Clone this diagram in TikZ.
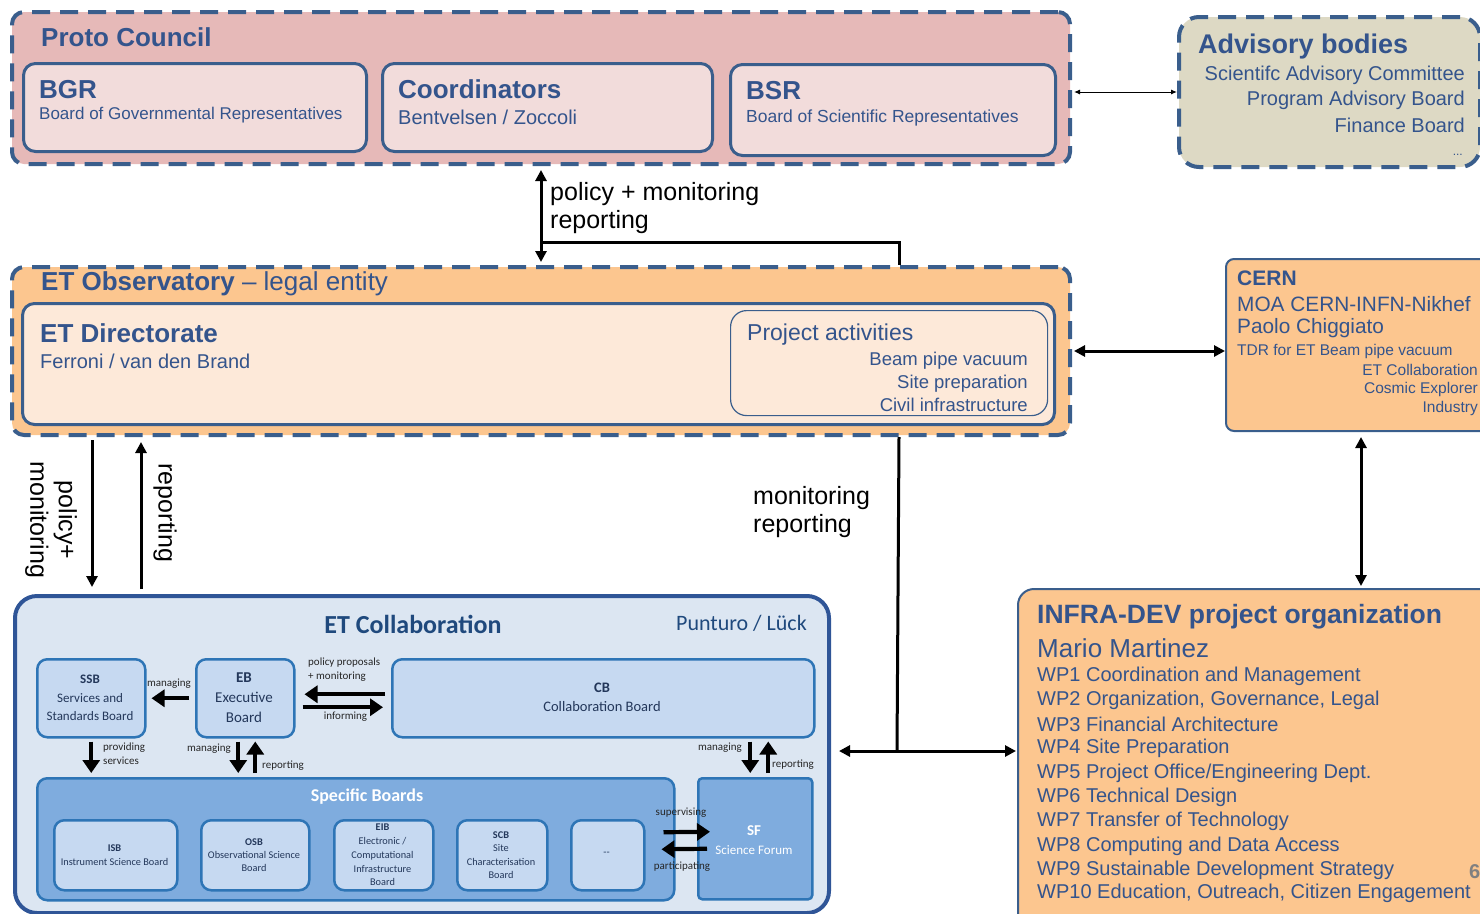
\documentclass[tikz,border=0pt]{standalone}
\usepackage{fontspec}
\setmainfont{Liberation Sans}
\newfontfamily\calib{Carlito}
\usepackage{tikz}
\usetikzlibrary{arrows.meta}

\definecolor{dashblue}{RGB}{58,94,140}
\definecolor{navy}{RGB}{52,84,140}
\definecolor{pcfill}{RGB}{230,185,184}
\definecolor{pclight}{RGB}{242,220,219}
\definecolor{advfill}{RGB}{221,217,196}
\definecolor{obsfill}{RGB}{252,198,143}
\definecolor{peach}{RGB}{253,233,217}
\definecolor{colfill}{RGB}{220,230,242}
\definecolor{colline}{RGB}{47,85,151}
\definecolor{boardfill}{RGB}{198,217,241}
\definecolor{boardline}{RGB}{46,117,182}
\definecolor{specfill}{RGB}{127,172,222}
\definecolor{coltext}{RGB}{35,55,90}
\definecolor{coltitle}{RGB}{31,73,125}

\newcommand{\fsz}[2]{\fontsize{#1}{#2}\selectfont}

\begin{document}
\begin{tikzpicture}[x=1pt, y=-1pt,
	dashbox/.style={draw=dashblue, line width=4pt, dash pattern=on 18pt off 10pt, rounded corners=12pt, anchor=north west, inner sep=0pt},
	innerbox/.style={draw=dashblue, line width=3pt, rounded corners=12pt, anchor=north west, inner sep=0pt},
	sidebox/.style={draw=dashblue, line width=2pt, fill=obsfill, rounded corners=8pt, anchor=north west, inner sep=0pt},
	colbox/.style={draw=boardline, line width=2.5pt, fill=boardfill, rounded corners=10pt, anchor=north west, inner sep=0pt},
	txt/.style={anchor=west, inner sep=0pt, text=navy},
	rtxt/.style={anchor=east, inner sep=0pt, text=navy},
	ctxt/.style={inner sep=0pt, align=center, text=coltext},
	tiny/.style={inner sep=0pt, text=black!85, font=\calib\fsz{11}{14}},
	conlbl/.style={inner sep=0pt, font=\fsz{25}{28.5}},
	bigline/.style={line width=3pt},
	bigarr/.style={line width=3pt, -{Triangle[length=11pt,width=11pt]}},
	bothbig/.style={line width=3pt, {Triangle[length=11pt,width=11pt]}-{Triangle[length=11pt,width=11pt]}},
	colarr/.style={line width=4.2pt, -{Triangle[length=13pt,width=17pt]}},
]

\useasboundingbox (0,0) rectangle (1480,913);

% Proto Council
\node[dashbox, fill=pcfill, minimum width=1058pt, minimum height=152pt] (pc) at (10,10) {};
\node[txt, font=\bfseries\fsz{26}{30}] (pcT) at (41,37) {Proto Council};
\node[innerbox, fill=pclight, minimum width=343pt, minimum height=88pt] (bgr) at (22,62) {};
\node[txt, font=\bfseries\fsz{26}{30}] (bgrT) at (39,90) {BGR};
\node[txt, font=\fsz{17}{20}] (bgrS) at (39,115) {Board of Governmental Representatives};
\node[innerbox, fill=pclight, minimum width=330pt, minimum height=88pt] (coord) at (381,62) {};
\node[txt, font=\bfseries\fsz{26}{30}] (coordT) at (398,89) {Coordinators};
\node[txt, font=\fsz{20}{24}] (coordS) at (398,117) {Bentvelsen / Zoccoli};
\node[innerbox, fill=pclight, minimum width=325pt, minimum height=91pt] (bsr) at (729,63) {};
\node[txt, font=\bfseries\fsz{26}{30}] (bsrT) at (746,91) {BSR};
\node[txt, font=\fsz{17.5}{20}] (bsrS) at (746,118) {Board of Scientific Representatives};

% Advisory bodies
\node[dashbox, fill=advfill, rounded corners=20pt, minimum width=301pt, minimum height=150pt] (adv) at (1177,15) {};
\node[txt, font=\bfseries\fsz{27}{30}] (advT) at (1198,47) {Advisory bodies};
\node[rtxt, font=\fsz{20}{24}] (adv1) at (1465,75) {Scientifc Advisory Committee};
\node[rtxt, font=\fsz{20}{24}] (adv2) at (1465,100) {Program Advisory Board};
\node[rtxt, font=\fsz{20}{24}] (adv3) at (1465,125) {Finance Board};
\node[rtxt, font=\fsz{12}{14}] (adv4) at (1463,155) {...};

% ET Observatory
\node[dashbox, fill=obsfill, minimum width=1058pt, minimum height=168pt] (obs) at (10,265) {};
\node[txt, font=\fsz{26}{30}] (obsT) at (41,284) {\textbf{ET Observatory} -- legal entity};
\node[innerbox, fill=peach, minimum width=1032pt, minimum height=121pt] (dir) at (21,302) {};
\node[txt, font=\bfseries\fsz{26}{30}] (dirT) at (40,333) {ET Directorate};
\node[txt, font=\fsz{20}{24}] (dirS) at (40,361) {Ferroni / van den Brand};
\node[draw=dashblue, line width=1.2pt, rounded corners=16pt, anchor=north west, inner sep=0pt, minimum width=317pt, minimum height=105pt] (proj) at (730,310) {};
\node[txt, font=\fsz{23}{26}] (projT) at (747,335) {Project activities};
\node[rtxt, font=\fsz{18.5}{22}] (proj1) at (1028,361) {Beam pipe vacuum};
\node[rtxt, font=\fsz{18.5}{22}] (proj2) at (1028,384) {Site preparation};
\node[rtxt, font=\fsz{18.5}{22}] (proj3) at (1028,405) {Civil infrastructure};

% CERN
\node[sidebox, minimum width=270pt, minimum height=172pt] (cern) at (1225,258) {};
\node[txt, font=\bfseries\fsz{21}{24}] (cernT) at (1237,278) {CERN};
\node[txt, font=\fsz{20.8}{24}] (cern1) at (1237,304) {MOA CERN-INFN-Nikhef};
\node[txt, font=\fsz{20.8}{24}] (cern2) at (1237,328) {Paolo Chiggiato};
\node[txt, font=\fsz{15.5}{18}] (cern3) at (1237,351) {TDR for ET Beam pipe vacuum};
\node[rtxt, font=\fsz{15.5}{18}] (cern4) at (1478,370) {ET Collaboration};
\node[rtxt, font=\fsz{15.5}{18}] (cern5) at (1478,389) {Cosmic Explorer};
\node[rtxt, font=\fsz{15.5}{18}] (cern6) at (1478,408) {Industry};

% INFRA-DEV
\node[sidebox, rounded corners=16pt, minimum width=480pt, minimum height=340pt] (infra) at (1017,588) {};
\node[txt, font=\bfseries\fsz{26.5}{30}] (infraT) at (1037,617) {INFRA-DEV project organization};
\node[txt, font=\fsz{26}{30}] (infraM) at (1037,648) {Mario Martinez};
\node[txt, font=\fsz{20}{24}] (wp1) at (1037,676) {WP1 Coordination and Management};
\node[txt, font=\fsz{20}{24}] (wp2) at (1037,700) {WP2 Organization, Governance, Legal};
\node[txt, font=\fsz{20}{24}] (wp3) at (1037,724) {WP3 Financial Architecture};
\node[txt, font=\fsz{20}{24}] (wp4) at (1037,748) {WP4 Site Preparation};
\node[txt, font=\fsz{20}{24}] (wp5) at (1037,773) {WP5 Project Office/Engineering Dept.};
\node[txt, font=\fsz{20}{24}] (wp6) at (1037,797) {WP6 Technical Design};
\node[txt, font=\fsz{20}{24}] (wp7) at (1037,821) {WP7 Transfer of Technology};
\node[txt, font=\fsz{20}{24}] (wp8) at (1037,846) {WP8 Computing and Data Access};
\node[txt, font=\fsz{20}{24}] (wp9) at (1037,870) {WP9 Sustainable Development Strategy};
\node[txt, font=\fsz{20}{24}] (wp10) at (1037,893) {WP10 Education, Outreach, Citizen Engagement};
\node[anchor=west, inner sep=0pt, text=gray, font=\bfseries\fsz{20}{24}] (pageNo) at (1469,872) {6};

% ET Collaboration
\node[draw=colline, line width=4pt, fill=colfill, rounded corners=22pt, anchor=north west, inner sep=0pt, minimum width=814pt, minimum height=317pt] (collab) at (13,594) {};
\node[inner sep=0pt, text=coltitle, font=\calib\bfseries\fsz{26}{30}] (collabT) at (413,624) {ET Collaboration};
\node[anchor=east, inner sep=0pt, text=coltitle, font=\calib\fsz{22}{26}] (collabS) at (807,623) {Punturo / Lück};

\node[colbox, minimum width=108pt, minimum height=78pt] (ssb) at (36,658) {};
\node[ctxt, font=\calib\fsz{13}{18.5}] (ssbT) at (90,698) {\textbf{SSB}\\Services and\\Standards Board};
\node[colbox, minimum width=98pt, minimum height=78pt] (eb) at (195,658) {};
\node[ctxt, font=\calib\fsz{15}{20}] (ebT) at (244,698) {\textbf{EB}\\Executive\\Board};
\node[colbox, minimum width=422pt, minimum height=78pt] (cb) at (391,658) {};
\node[ctxt, font=\calib\fsz{14.5}{19}] (cbT) at (602,697) {\textbf{CB}\\Collaboration Board};

\node[colbox, fill=specfill, minimum width=637pt, minimum height=122pt] (spec) at (36,777) {};
\node[inner sep=0pt, text=white, font=\calib\bfseries\fsz{18}{20}] (specT) at (367,797) {Specific Boards};
\node[colbox, minimum width=123pt, minimum height=70pt] (isb) at (53,819) {};
\node[ctxt, font=\calib\fsz{10.3}{14}] (isbT) at (114.5,855) {\textbf{ISB}\\Instrument Science Board};
\node[colbox, minimum width=108pt, minimum height=70pt] (osb) at (200,819) {};
\node[ctxt, font=\calib\fsz{10.3}{13.2}] (osbT) at (254,855) {\textbf{OSB}\\Observational Science\\Board};
\node[colbox, minimum width=99pt, minimum height=70pt] (eib) at (333,819) {};
\node[ctxt, font=\calib\fsz{10.3}{13.7}] (eibT) at (382.5,855) {\textbf{EIB}\\Electronic /\\Computational\\Infrastructure\\Board};
\node[colbox, minimum width=90pt, minimum height=70pt] (scb) at (456,819) {};
\node[ctxt, font=\calib\fsz{10.3}{13.4}] (scbT) at (501,855) {\textbf{SCB}\\Site\\Characterisation\\Board};
\node[colbox, minimum width=73pt, minimum height=70pt] (more) at (570,819) {};
\node[ctxt, font=\calib\fsz{10.3}{13}] (moreT) at (606.5,854) {--};
\node[colbox, fill=specfill, rounded corners=4pt, minimum width=114pt, minimum height=121pt] (sf) at (697,777) {};
\node[ctxt, text=white, font=\calib\fsz{13}{19}] (sfT) at (754,840) {{\bfseries\fsz{15}{19}SF}\\Science Forum};

% small labels
\node[tiny] (lblMan1) at (169,684) {managing};
\node[tiny, anchor=west, align=left] (lblPol) at (308,670) {policy proposals\\+ monitoring};
\node[tiny] (lblInf) at (345.5,717) {informing};
\node[tiny, anchor=west, align=left] (lblProv) at (103,754) {providing\\services};
\node[tiny, anchor=east] (lblMan2) at (231,749) {managing};
\node[tiny, anchor=west] (lblRep1) at (262,766) {reporting};
\node[tiny, anchor=east] (lblMan3) at (742,748) {managing};
\node[tiny, anchor=west] (lblRep2) at (772,765) {reporting};
\node[tiny] (lblSup) at (681,813) {supervising};
\node[tiny] (lblPart) at (682,867) {participating};

% arrows inside the collaboration
\draw[colarr] ([xshift=-6pt]eb.west) -- ([xshift=5pt]ssb.east);
\draw[colarr] ([xshift=-6pt,yshift=4pt]cb.west) -- ([xshift=9pt,yshift=4pt]eb.east);
\draw[colarr] ([xshift=7pt,yshift=-9pt]eb.east) -- ([xshift=-8pt,yshift=-9pt]cb.west);
\draw[colarr, shorten <=3pt, shorten >=4pt] (ssb.south) -- (ssb.south |- spec.north);
\draw[colarr, shorten <=3pt, shorten >=4pt] ([xshift=-7pt]eb.south) -- ([xshift=-7pt]eb.south |- spec.north);
\draw[colarr, shorten <=4pt, shorten >=3pt] ([xshift=10pt]eb.south |- spec.north) -- ([xshift=10pt]eb.south);
\draw[colarr, shorten <=3pt, shorten >=4pt] ([xshift=-5pt]sf.north |- cb.south) -- ([xshift=-5pt]sf.north);
\draw[colarr, shorten <=4pt, shorten >=3pt] ([xshift=13pt]sf.north) -- ([xshift=13pt]sf.north |- cb.south);
\draw[colarr] ([xshift=-12pt,yshift=7pt]spec.east) -- ([xshift=13pt,yshift=7pt]sf.west);
\draw[colarr] ([xshift=10pt,yshift=-10pt]sf.west) -- ([xshift=-14pt,yshift=-10pt]spec.east);

% connectors between the bodies
\coordinate (tapTop) at (540,242);
\coordinate (tapBot) at (897,751);
\draw[bothbig, shorten <=4pt, shorten >=3pt] (pc.south) -- (obs.north);
\draw[bigline] (tapTop) -| ([xshift=358pt]obs.north);
\node[conlbl, anchor=west, align=left] (pmLbl) at (550,208) {policy + monitoring\\reporting};

\draw[bigarr, shorten <=3pt, shorten >=7pt] ([xshift=82pt]obs.south west) -- ([xshift=82pt]obs.south west |- collab.north);
\draw[bigarr, shorten <=5pt, shorten >=5pt] ([xshift=131pt]obs.south west |- collab.north) -- ([xshift=131pt]obs.south west);
\node[conlbl, rotate=-90, align=center] (pmRot) at (51,520) {policy+\\monitoring};
\node[conlbl, rotate=-90] (repRot) at (165,513) {reporting};

\draw[bigline] ([xshift=358pt]obs.south) -- (tapBot);
\draw[bothbig, shorten <=8pt, shorten >=1pt] (collab.east |- tapBot) -- (infra.west |- tapBot);
\node[conlbl, anchor=west, align=left] (mrLbl) at (753,512) {monitoring\\reporting};

\draw[line width=1pt, {Latex[length=6pt,width=5pt]}-{Latex[length=6pt,width=5pt]}, shorten <=2pt] (pc.east |- adv.west) -- (adv.west);
\draw[bothbig, shorten <=2pt] (obs.east) -- (obs.east -| cern.west);
\draw[bothbig, shorten <=5pt, shorten >=2pt] (cern.south) -- (cern.south |- infra.north);

\end{tikzpicture}
\end{document}
